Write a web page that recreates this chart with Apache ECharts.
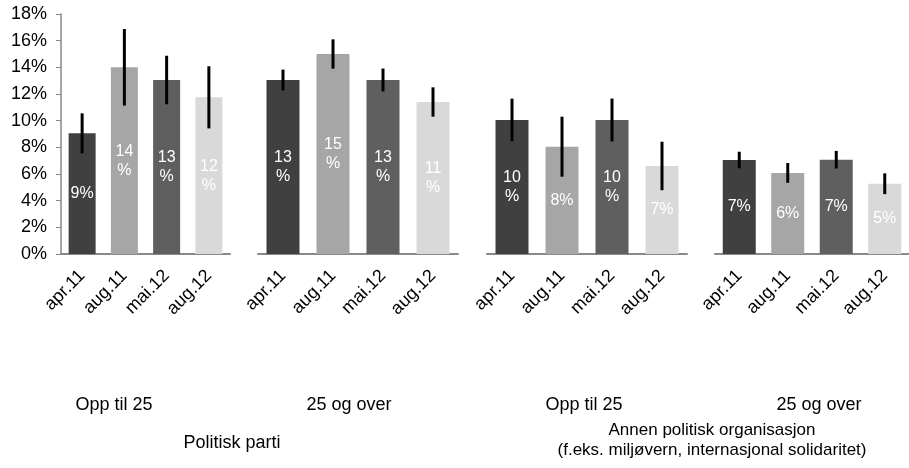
<!DOCTYPE html>
<html>
<head>
<meta charset="utf-8">
<script src="https://cdn.jsdelivr.net/npm/echarts@6/dist/echarts.min.js"></script>
<style>html,body{margin:0;padding:0;background:#fff}#c{width:909px;height:468px}</style>
</head>
<body>
<div id="c"></div>
<script>
// ---- data ----
const categories = ['apr.11', 'aug.11', 'mai.12', 'aug.12'];
const subGroups = ['Opp til 25', '25 og over', 'Opp til 25', '25 og over'];
const mainGroups = ['Politisk parti', 'Annen politisk organisasjon\n(f.eks. miljøvern, internasjonal solidaritet)'];
const partiUnder25 = [9.05, 14.0, 13.05, 11.75];
const partiOver25 = [13.05, 15.0, 13.05, 11.4];
const annenUnder25 = [10.05, 8.05, 10.05, 6.6];
const annenOver25 = [7.05, 6.08, 7.07, 5.27];
const errPartiUnder25 = [1.5, 2.87, 1.82, 2.33];
const errPartiOver25 = [0.78, 1.1, 0.86, 1.1];
const errAnnenUnder25 = [1.6, 2.25, 1.61, 1.82];
const errAnnenOver25 = [0.62, 0.74, 0.66, 0.78];
const yMin = 0, yMax = 18, yStep = 2;

// ---- layout / style ----
const FONT = 'Arial, "Liberation Sans", sans-serif';
const barColors = ['#404040', '#a6a6a6', '#5f5f5f', '#d9d9d9'];
const groupValues = [partiUnder25, partiOver25, annenUnder25, annenOver25];
const groupErrors = [errPartiUnder25, errPartiOver25, errAnnenUnder25, errAnnenOver25];
const gridBoxes = [
  {left: 61, width: 169, bar: 27},
  {left: 258, width: 200, bar: 33},
  {left: 487, width: 200, bar: 33},
  {left: 715, width: 200, bar: 33}
];
const subCenters = [114, 349, 584, 819];

const grids = [], xAxes = [], yAxes = [], series = [];
gridBoxes.forEach((g, i) => {
  grids.push({left: g.left, width: g.width, top: 14, height: 240, containLabel: false});
  xAxes.push({
    type: 'category', gridIndex: i, data: categories,
    axisLine: {show: true, lineStyle: {color: '#898989', width: 2}},
    axisTick: {show: false},
    axisLabel: {rotate: 45, margin: 19, color: '#000', fontSize: 18, fontFamily: FONT, interval: 0}
  });
  yAxes.push({
    type: 'value', gridIndex: i, min: yMin, max: yMax, interval: yStep,
    show: i === 0,
    axisLine: {show: true, lineStyle: {color: '#898989', width: 1.5}},
    axisTick: {show: true, length: 5, lineStyle: {color: '#898989'}},
    splitLine: {show: false},
    axisLabel: {formatter: '{value}%', color: '#000', fontSize: 18, fontFamily: FONT, margin: 14}
  });
  series.push({
    type: 'bar', xAxisIndex: i, yAxisIndex: i, barWidth: g.bar,
    data: groupValues[i].map((v, k) => ({value: v, itemStyle: {color: barColors[k]}})),
    label: {
      show: true, position: 'inside', color: '#fff', fontSize: 16, fontFamily: FONT, lineHeight: 19,
      formatter: p => { const r = Math.round(p.value); return r >= 10 ? r + '\n%' : r + '%'; }
    }
  });
  series.push({
    type: 'custom', xAxisIndex: i, yAxisIndex: i, z: 5,
    data: groupValues[i].map((v, k) => [k, v - groupErrors[i][k], v + groupErrors[i][k]]),
    encode: {x: 0, y: [1, 2]},
    renderItem: (params, api) => {
      const x = api.value(0);
      const lo = api.coord([x, api.value(1)]);
      const hi = api.coord([x, api.value(2)]);
      return {type: 'line', shape: {x1: lo[0], y1: lo[1], x2: hi[0], y2: hi[1]},
              style: {stroke: '#000', lineWidth: 3}};
    }
  });
});

const graphic = [];
subGroups.forEach((t, i) => {
  graphic.push({type: 'text', style: {text: t, x: subCenters[i], y: 405, textAlign: 'center', textVerticalAlign: 'middle', font: '18px ' + FONT, fill: '#000'}});
});
graphic.push({type: 'text', style: {text: mainGroups[0], x: 232, y: 443, textAlign: 'center', textVerticalAlign: 'middle', font: '18px ' + FONT, fill: '#000'}});
graphic.push({type: 'text', style: {text: mainGroups[1], x: 712, y: 440, textAlign: 'center', textVerticalAlign: 'middle', font: '17px ' + FONT, fill: '#000', lineHeight: 20}});

const chart = echarts.init(document.getElementById('c'), null, {renderer: 'canvas'});
chart.setOption({
  animation: false,
  backgroundColor: '#fff',
  grid: grids, xAxis: xAxes, yAxis: yAxes, series: series, graphic: graphic
});
</script>
</body>
</html>
